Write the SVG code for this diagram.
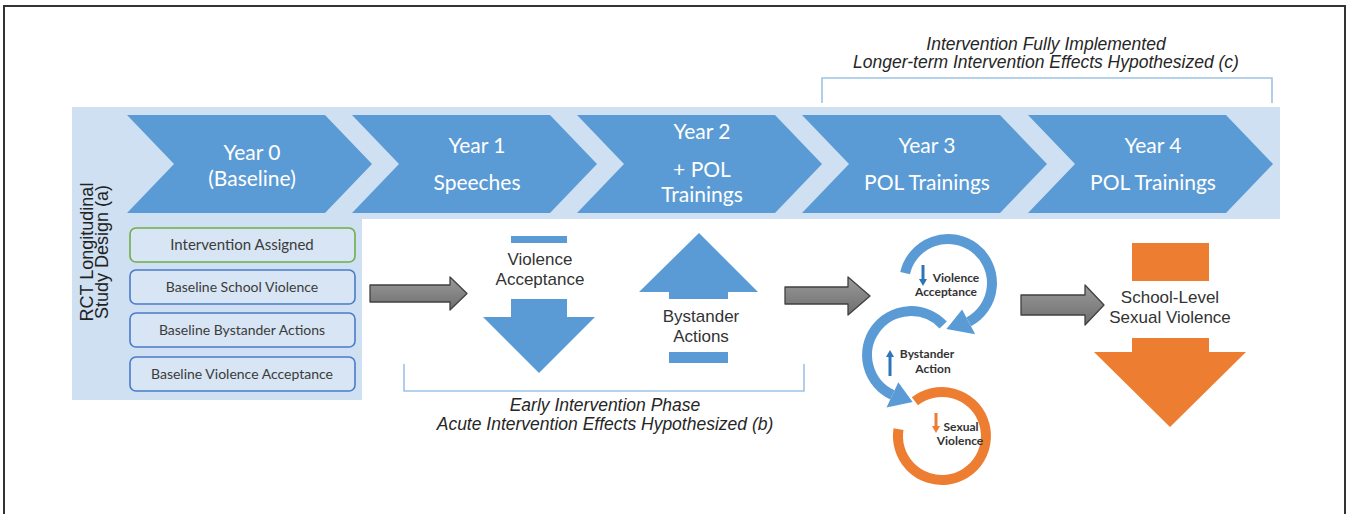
<svg xmlns="http://www.w3.org/2000/svg" width="1351" height="514" viewBox="0 0 1351 514">
<defs>
<style>
.chev{fill:#5b9bd5}
.ct{font-family:Lato,"Open Sans",sans-serif;font-size:21px;fill:#ffffff;text-anchor:middle}
.box{fill:#d7e5f4;stroke:#4a7bc8;stroke-width:1.6}
.boxg{fill:#d7e5f4;stroke:#70ad47;stroke-width:1.6}
.bt{font-family:Lato,"Open Sans",sans-serif;font-size:14px;fill:#3b3b3b;text-anchor:middle}
.lbl{font-family:"Liberation Sans",Arial,sans-serif;font-size:17px;fill:#333333;text-anchor:middle}
.it{font-family:"Liberation Sans",Arial,sans-serif;font-size:17.5px;font-style:italic;fill:#262626;text-anchor:middle}
.brk{fill:none;stroke:#9dc3e6;stroke-width:1.6}
.garrow{fill:url(#gg);stroke:#404040;stroke-width:1.3;stroke-linejoin:round}
.blue{fill:#5b9bd5}
.orange{fill:#ed7d31}
.ring{fill:none;stroke:#5b9bd5;stroke-width:10}
.ringo{fill:none;stroke:#ed7d31;stroke-width:10}
.cyc{font-family:Lato,"Open Sans",sans-serif;font-size:12px;font-weight:bold;fill:#333333;text-anchor:middle}
</style>
<linearGradient id="gg" x1="0" y1="0" x2="0" y2="1">
<stop offset="0" stop-color="#9a9a9a"/>
<stop offset="1" stop-color="#6e6e6e"/>
</linearGradient>
</defs>
<rect x="4" y="6" width="1341" height="520" fill="#ffffff" stroke="#333333" stroke-width="2"/>

<g id="top-label">
<text class="it" x="1046" y="50">Intervention Fully Implemented</text>
<text class="it" x="1046" y="68">Longer-term Intervention Effects Hypothesized (c)</text>
<path class="brk" d="M822,103 V78 H1272 V103"/>
</g>

<g id="band">
<path d="M72,107 H1280 V219 H362 V400 H72 Z" fill="#cfe0f2"/>
</g>

<g id="year0"><path class="chev" d="M127,115 H325 L372,164 L325,213 H127 L174,164 Z"/>
<text class="ct" x="252" y="160">Year 0</text><text class="ct" x="252" y="186">(Baseline)</text></g>
<g id="year1"><path class="chev" d="M352,115 H550 L597,164 L550,213 H352 L399,164 Z"/>
<text class="ct" x="477" y="153">Year 1</text><text class="ct" x="477" y="190">Speeches</text></g>
<g id="year2"><path class="chev" d="M577,115 H775 L822,164 L775,213 H577 L624,164 Z"/>
<text class="ct" x="702" y="139">Year 2</text><text class="ct" x="702" y="177">+ POL</text><text class="ct" x="702" y="202">Trainings</text></g>
<g id="year3"><path class="chev" d="M802,115 H1000 L1047,164 L1000,213 H802 L849,164 Z"/>
<text class="ct" x="927" y="153">Year 3</text><text class="ct" x="927" y="190">POL Trainings</text></g>
<g id="year4"><path class="chev" d="M1028,115 H1226 L1273,164 L1226,213 H1028 L1075,164 Z"/>
<text class="ct" x="1153" y="153">Year 4</text><text class="ct" x="1153" y="190">POL Trainings</text></g>

<g id="study-design">
<text class="lbl" font-size="18" transform="translate(93,252) rotate(-90)" style="font-size:18px;fill:#222">RCT Longitudinal</text>
<text class="lbl" transform="translate(108,252) rotate(-90)" style="font-size:18px;fill:#222">Study Design (a)</text>
</g>

<g id="box-assigned"><rect class="boxg" x="130" y="228" width="225" height="34" rx="6"/><text class="bt" x="242" y="250" style="font-size:15px">Intervention Assigned</text></g>
<g id="box-school"><rect class="box" x="130" y="270" width="225" height="34" rx="6"/><text class="bt" x="242" y="292">Baseline School Violence</text></g>
<g id="box-bystander"><rect class="box" x="130" y="313" width="225" height="34" rx="6"/><text class="bt" x="242" y="335">Baseline Bystander Actions</text></g>
<g id="box-acceptance"><rect class="box" x="130" y="357" width="225" height="34" rx="6"/><text class="bt" x="242" y="379">Baseline Violence Acceptance</text></g>

<g id="violence-acceptance">
<rect class="blue" x="511" y="236" width="56" height="7"/>
<text class="lbl" x="540" y="265">Violence</text>
<text class="lbl" x="540" y="285">Acceptance</text>
<path class="blue" d="M511,299 H567 V317 H595 L539,373 L483,317 H511 Z"/>
</g>

<g id="bystander-actions">
<path class="blue" d="M699,233 L758,292 H728 V299 H669 V292 H639 Z"/>
<text class="lbl" x="701" y="322">Bystander</text>
<text class="lbl" x="701" y="342">Actions</text>
<rect class="blue" x="669" y="352" width="59" height="11"/>
</g>

<g id="early-phase">
<path class="brk" d="M404,364 V391 H804 V364"/>
<text class="it" x="605" y="411">Early Intervention Phase</text>
<text class="it" x="605" y="430">Acute Intervention Effects Hypothesized (b)</text>
</g>

<g id="cycle">
<path class="ring" d="M905.1,273.1 A44,44 0 1 1 968.7,321.8"/>
<path class="blue" d="M962.1,309.5 L975.2,334.2 L946.4,329 Z"/>
<path class="ring" d="M943.2,325 A44,44 0 1 0 892.4,394.9"/>
<path class="blue" d="M898.3,382.2 L886.5,407.6 L912.6,402 Z"/>
<path class="ringo" d="M914.9,401.3 A44,44 0 1 1 898.5,429.1"/>
<g fill="#2e75b6" stroke="#2e75b6">
<line x1="923" y1="265" x2="923" y2="280" stroke-width="3"/>
<path d="M919,279 H927 L923,286 Z" stroke="none"/>
<line x1="890" y1="376" x2="890" y2="356" stroke-width="3"/>
<path d="M886,357 H894 L890,350 Z" stroke="none"/>
</g>
<line x1="936" y1="413" x2="936" y2="427" stroke="#ed7d31" stroke-width="3"/>
<path d="M932,426 H940 L936,433 Z" fill="#ed7d31"/>
<text class="cyc" x="956" y="282">Violence</text>
<text class="cyc" x="946" y="296">Acceptance</text>
<text class="cyc" x="927" y="358">Bystander</text>
<text class="cyc" x="933" y="373">Action</text>
<text class="cyc" x="961" y="431">Sexual</text>
<text class="cyc" x="960" y="445">Violence</text>
</g>

<g id="school-level">
<rect class="orange" x="1132" y="243" width="77" height="38"/>
<text class="lbl" x="1170" y="303">School-Level</text>
<text class="lbl" x="1170" y="323">Sexual Violence</text>
<path class="orange" d="M1132,338 H1209 V352 H1246 L1170,427 L1094,352 H1132 Z"/>
</g>

<g id="connectors">
<path class="garrow" d="M370,285 H450 V277 L467,293.5 L450,310 V302 H370 Z"/>
<path class="garrow" d="M785,287 H848 V277 L870,296 L848,315 V304 H785 Z"/>
<path class="garrow" d="M1021,295 H1085 V285 L1104,305 L1085,325 V315 H1021 Z"/>
</g>
</svg>
